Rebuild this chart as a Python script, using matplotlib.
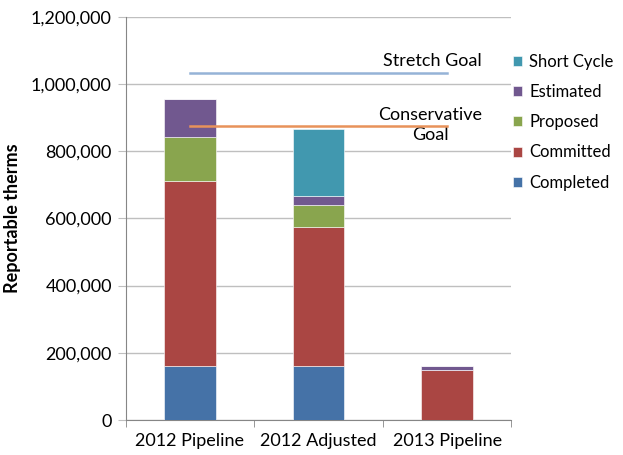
import numpy as np
import matplotlib
matplotlib.use("Agg")
import matplotlib.pyplot as plt

plt.rcParams['font.family'] = ['Lato', 'DejaVu Sans']

# 数据
categories = ["2012 Pipeline", "2012 Adjusted", "2013 Pipeline"]
completed = [160000, 160000, 0]
committed = [550000, 414000, 148000]
proposed = [132000, 65000, 0]
estimated = [113000, 28000, 14000]
short_cycle = [0, 199000, 0]

stretch_goal = 1032000
conservative_goal = 876000

series = [
    ("Completed", completed, "#4572A7"),
    ("Committed", committed, "#AA4643"),
    ("Proposed", proposed, "#89A54E"),
    ("Estimated", estimated, "#71588F"),
    ("Short Cycle", short_cycle, "#4198AF"),
]

fs = 13

fig = plt.figure(figsize=(6.23, 4.55), dpi=100)
ax = fig.add_axes([0.2018, 0.0769, 0.619, 0.8864])

x = np.arange(len(categories))
bottom = np.zeros(len(categories))
handles = []
for name, vals, color in series:
    h = ax.bar(x, vals, width=0.4, bottom=bottom, color=color, label=name,
               edgecolor="white", linewidth=0.4, zorder=3)
    handles.append(h)
    bottom += np.array(vals)

# 目标线
ax.plot([0, 2], [stretch_goal, stretch_goal], color="#95B3D7", lw=1.8, zorder=4)
ax.plot([0, 2], [conservative_goal, conservative_goal], color="#E8925A", lw=1.8, zorder=4)
ax.text(2.27, stretch_goal + 12000, "Stretch Goal", ha="right", va="bottom", fontsize=fs)
ax.text(1.87, conservative_goal + 2000, "Conservative\nGoal", ha="center", va="center",
        fontsize=fs, linespacing=1.25)

ax.set_xlim(-0.5, 2.5)
ax.set_ylim(0, 1200000)
ax.set_yticks(np.arange(0, 1200001, 200000))
ax.set_yticklabels([f"{v:,}" for v in range(0, 1200001, 200000)], fontsize=fs)
ax.set_xticks(x)
ax.set_xticklabels(categories, fontsize=fs)
ax.set_xticks([-0.5, 0.5, 1.5, 2.5], minor=True)
ax.tick_params(axis="x", which="major", length=0, pad=9)
ax.tick_params(axis="x", which="minor", length=5, color="#868686")
ax.tick_params(axis="y", length=6, color="#BFBFBF", pad=4)

ax.grid(axis="y", color="#BFBFBF", lw=1, zorder=0)
for s in ["top", "right"]:
    ax.spines[s].set_visible(False)
for s in ["left", "bottom"]:
    ax.spines[s].set_color("#868686")

ax.set_ylabel("Reportable therms", fontsize=fs, fontweight="bold", labelpad=7)

leg = ax.legend(handles[::-1], [s[0] for s in series][::-1], loc="upper left",
                bbox_to_anchor=(0.99, 0.92), frameon=False, fontsize=12,
                handlelength=0.55, handleheight=0.55, handletextpad=0.45,
                labelspacing=0.85, borderaxespad=0.0, borderpad=0.3)

fig.savefig("out.png", dpi=100)
